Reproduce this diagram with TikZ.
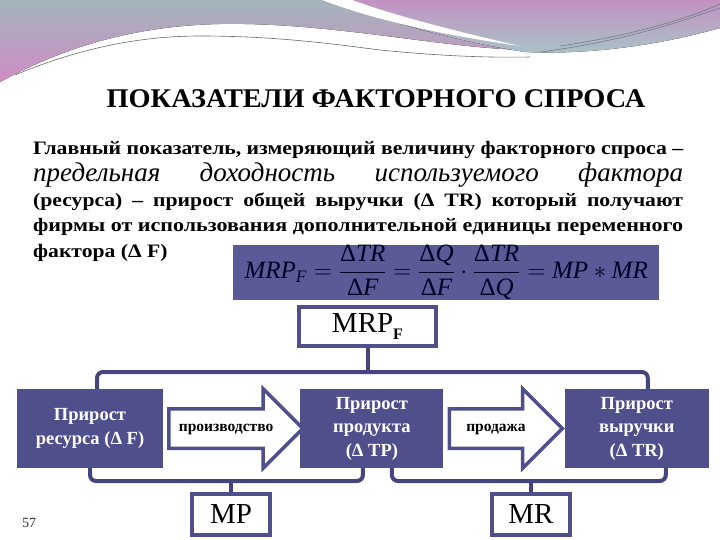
\documentclass[tikz,border=0pt]{standalone}
\usepackage{amsmath}
\usepackage{fontspec}
\setmainfont{Liberation Serif}
\usetikzlibrary{positioning,shapes.arrows}

\definecolor{boxblue}{HTML}{4F4F8C}
\definecolor{frmblue}{HTML}{5A5A96}
\definecolor{linkblue}{HTML}{45457E}
\definecolor{wavegray}{HTML}{A3B4BB}
\definecolor{wavepink}{HTML}{CF8DC4}
\definecolor{wavemauve}{HTML}{C291C2}
\definecolor{waveteal}{HTML}{A8C4C8}

\newcommand{\bodyfont}{\fontsize{19}{25}\selectfont\bfseries}
\newcommand{\wideline}[1]{\scalebox{1.14}[1]{#1}}
\newcommand{\D}{\textup{Δ}}

\tikzset{
  growbox/.style={fill=boxblue, minimum width=146pt, minimum height=79pt,
    text=white, align=center, inner sep=0pt,
    font=\fontsize{18.5}{23.5}\selectfont\bfseries},
  valbox/.style={draw=boxblue, line width=4pt, fill=white, inner sep=0pt,
    minimum width=78pt, minimum height=41pt, font=\fontsize{29}{32}\selectfont},
  flowarrow/.style={single arrow, draw=boxblue, line width=3.5pt, fill=white,
    single arrow head extend=20pt, inner ysep=12pt, inner xsep=2pt,
    text height=9pt, text depth=3pt, anchor=tail,
    font=\fontsize{15.5}{17}\selectfont\bfseries},
  link/.style={draw=linkblue, line width=4pt, rounded corners=6pt},
  textline/.style={anchor=base west, inner sep=0pt, font=\bodyfont},
}

\begin{document}
\begin{tikzpicture}[x=1pt, y=-1pt]
\useasboundingbox (0,0) rectangle (720,540);

% header waves
\fill[top color=wavegray, bottom color=wavepink]
  (0,0) -- (330,0) .. controls (390,25) and (450,38) .. (525,50)
  .. controls (440,48) and (330,22) .. (220,24)
  .. controls (120,26) and (50,55) .. (0,82) -- cycle;
\fill[top color=wavemauve, bottom color=waveteal]
  (330,0) -- (720,0) -- (720,28) .. controls (660,45) and (590,55) .. (525,52)
  .. controls (450,40) and (390,22) .. (330,0) -- cycle;
\fill[white] (322,0) .. controls (380,22) and (450,36) .. (520,46)
  .. controls (450,30) and (390,14) .. (352,0) -- cycle;
\draw[wavegray!60!black, line width=0.6pt]
  (15,75) .. controls (80,48) and (140,36) .. (200,36)
  .. controls (280,36) and (340,45) .. (380,50)
  .. controls (430,55) and (480,58) .. (530,57);
\draw[wavegray!70!black, line width=0.6pt]
  (540,52) .. controls (620,42) and (680,22) .. (720,8);
\draw[wavegray!70!black, line width=0.6pt]
  (560,46) .. controls (630,36) and (690,18) .. (720,4);

% title and text
\node[anchor=base, inner sep=0pt, font=\fontsize{27}{30}\selectfont\bfseries]
  (title) at (376,108) {\scalebox{1.05}[1]{ПОКАЗАТЕЛИ ФАКТОРНОГО СПРОСА}};
\node[textline] (line1) at (33,155)
  {\resizebox{650pt}{\height}{Главный показатель, измеряющий величину факторного спроса –}};
\node[textline, font=\fontsize{27}{30}\selectfont\itshape] (line2) at (33,182)
  {\makebox[650pt][s]{предельная доходность используемого фактора}};
\node[textline] (line3) at (33,207)
  {\wideline{\makebox[570pt][s]{(ресурса) – прирост общей выручки (Δ TR) который получают}}};
\node[textline] (line4) at (33,232)
  {\resizebox{650pt}{\height}{фирмы от использования дополнительной единицы переменного}};
\node[textline] (line5) at (33,257) {\wideline{фактора (Δ F)}};

% formula
\node[fill=frmblue, anchor=north west, minimum width=426pt, minimum height=54pt,
  inner sep=0pt, text=black!85!blue, font=\fontsize{25}{28}\selectfont]
  (formula) at (233,245)
  {$\displaystyle \textit{MRP}_{\textit{F}}
   = \frac{\D \textit{TR}}{\D \textit{F}}
   = \frac{\D \textit{Q}}{\D \textit{F}}\cdot\frac{\D \textit{TR}}{\D \textit{Q}}
   = \textit{MP} * \textit{MR}$};

% chain
\node[growbox] (res) at (90,428.5) {Прирост\\ресурса (Δ F)};
\node[growbox, minimum width=143pt, right=137pt of res] (mid) {Прирост\\продукта\\(Δ TP)};
\node[growbox, minimum width=144pt, right=121pt of mid] (rev) {Прирост\\выручки\\(Δ TR)};

\node[flowarrow, minimum height=134pt] (make) at ([xshift=4pt]res.east) {производство};
\node[flowarrow, minimum height=113pt] (sell) at ([xshift=4pt]mid.east) {продажа};

\node[valbox, minimum width=137pt, minimum height=39pt] (mrpf) at (367.5,326.5)
  {MRP\raisebox{-7pt}{\fontsize{16}{16}\selectfont\bfseries F}};
\node[valbox] (mp) at (231,514.5) {MP};
\node[valbox] (mr) at (531,514.5) {MR};

\coordinate (topbar) at (0,372);
\coordinate (botbar) at (0,481);
\coordinate (resup) at ([xshift=7pt]res.north);
\coordinate (revup) at ([xshift=11pt]rev.north);
\coordinate (middownl) at ([xshift=-9pt]mid.south);
\coordinate (middownr) at ([xshift=20pt]mid.south);
\coordinate (revdown) at ([xshift=29pt]rev.south);

\draw[link] (resup) -- (resup |- topbar) -| (revup);
\draw[link] (mrpf.south) -- (mrpf.south |- topbar);
\draw[link] (res.south) -- (res.south |- botbar) -| (middownl);
\draw[link] (mp.north) -- (mp.north |- botbar);
\draw[link] (middownr) -- (middownr |- botbar) -| (revdown);
\draw[link] (mr.north) -- (mr.north |- botbar);

\node[anchor=base west, inner sep=0pt, text=black!80, font=\fontsize{14}{16}\selectfont]
  (page) at (22,527) {57};
\end{tikzpicture}
\end{document}
